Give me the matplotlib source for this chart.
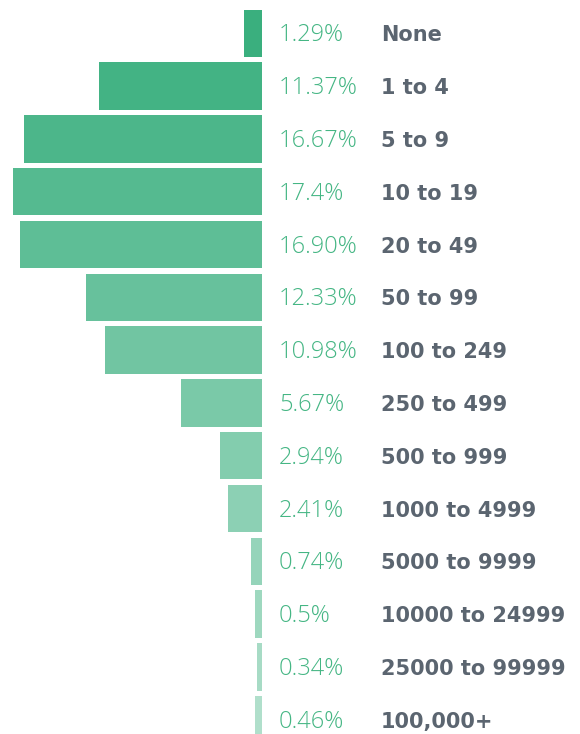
import matplotlib.pyplot as plt
import numpy as np

labels = ['None', '1 to 4', '5 to 9', '10 to 19', '20 to 49', '50 to 99',
          '100 to 249', '250 to 499', '500 to 999', '1000 to 4999',
          '5000 to 9999', '10000 to 24999', '25000 to 99999', '100,000+']
values = [1.29, 11.37, 16.67, 17.4, 16.90, 12.33, 10.98, 5.67, 2.94, 2.41,
          0.74, 0.5, 0.34, 0.46]
value_text = ['1.29%', '11.37%', '16.67%', '17.4%', '16.90%', '12.33%', '10.98%',
              '5.67%', '2.94%', '2.41%', '0.74%', '0.5%', '0.34%', '0.46%']

base = np.array([58, 175, 126]) / 255.0
alphas = np.linspace(1.0, 0.4, len(values))
colors = [tuple(1 - a * (1 - base)) for a in alphas]

fig = plt.figure(figsize=(5.8, 7.34), dpi=100)
ax = fig.add_axes([0, 0, 1, 1])
y = np.arange(len(values))
ax.barh(y, [-v for v in values], height=0.9, color=colors, left=0)

for i in range(len(values)):
    ax.text(1.19, i + 0.04, value_text[i], va='center', ha='left', fontsize=17,
            color='#45b684', family='Open Sans', fontweight='light')
    ax.text(8.32, i + 0.04, labels[i], va='center', ha='left', fontsize=15,
            color='#5b6570', family='DejaVu Sans', fontweight='bold')

ax.set_xlim(-18.32, 22.24)
ax.set_ylim(13.27, -0.63)
ax.axis('off')
fig.savefig('out.png', dpi=100)
